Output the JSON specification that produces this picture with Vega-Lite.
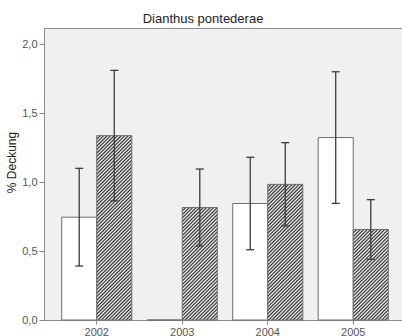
{
  "$schema": "https://vega.github.io/schema/vega-lite/v6.json",
  "width": 362,
  "height": 292,
  "autosize": "none",
  "padding": {"left": 44, "top": 28, "right": 0, "bottom": 16},
  "background": "white",
  "params": [
    {
      "name": "stripes",
      "value": [
        {"offset": 0, "color": "#2a2a2a"}, {"offset": 0.008, "color": "#fff"},
        {"offset": 0.016, "color": "#2a2a2a"}, {"offset": 0.024, "color": "#fff"},
        {"offset": 0.032, "color": "#2a2a2a"}, {"offset": 0.04, "color": "#fff"},
        {"offset": 0.048, "color": "#2a2a2a"}, {"offset": 0.056, "color": "#fff"},
        {"offset": 0.064, "color": "#2a2a2a"}, {"offset": 0.072, "color": "#fff"},
        {"offset": 0.08, "color": "#2a2a2a"}, {"offset": 0.088, "color": "#fff"},
        {"offset": 0.096, "color": "#2a2a2a"}, {"offset": 0.104, "color": "#fff"},
        {"offset": 0.112, "color": "#2a2a2a"}, {"offset": 0.12, "color": "#fff"},
        {"offset": 0.128, "color": "#2a2a2a"}, {"offset": 0.136, "color": "#fff"},
        {"offset": 0.144, "color": "#2a2a2a"}, {"offset": 0.152, "color": "#fff"},
        {"offset": 0.16, "color": "#2a2a2a"}, {"offset": 0.168, "color": "#fff"},
        {"offset": 0.176, "color": "#2a2a2a"}, {"offset": 0.184, "color": "#fff"},
        {"offset": 0.192, "color": "#2a2a2a"}, {"offset": 0.2, "color": "#fff"},
        {"offset": 0.208, "color": "#2a2a2a"}, {"offset": 0.216, "color": "#fff"},
        {"offset": 0.224, "color": "#2a2a2a"}, {"offset": 0.232, "color": "#fff"},
        {"offset": 0.24, "color": "#2a2a2a"}, {"offset": 0.248, "color": "#fff"},
        {"offset": 0.256, "color": "#2a2a2a"}, {"offset": 0.264, "color": "#fff"},
        {"offset": 0.272, "color": "#2a2a2a"}, {"offset": 0.28, "color": "#fff"},
        {"offset": 0.288, "color": "#2a2a2a"}, {"offset": 0.296, "color": "#fff"},
        {"offset": 0.304, "color": "#2a2a2a"}, {"offset": 0.312, "color": "#fff"},
        {"offset": 0.32, "color": "#2a2a2a"}, {"offset": 0.328, "color": "#fff"},
        {"offset": 0.336, "color": "#2a2a2a"}, {"offset": 0.344, "color": "#fff"},
        {"offset": 0.352, "color": "#2a2a2a"}, {"offset": 0.36, "color": "#fff"},
        {"offset": 0.368, "color": "#2a2a2a"}, {"offset": 0.376, "color": "#fff"},
        {"offset": 0.384, "color": "#2a2a2a"}, {"offset": 0.392, "color": "#fff"},
        {"offset": 0.4, "color": "#2a2a2a"}, {"offset": 0.408, "color": "#fff"},
        {"offset": 0.416, "color": "#2a2a2a"}, {"offset": 0.424, "color": "#fff"},
        {"offset": 0.432, "color": "#2a2a2a"}, {"offset": 0.44, "color": "#fff"},
        {"offset": 0.448, "color": "#2a2a2a"}, {"offset": 0.456, "color": "#fff"},
        {"offset": 0.464, "color": "#2a2a2a"}, {"offset": 0.472, "color": "#fff"},
        {"offset": 0.48, "color": "#2a2a2a"}, {"offset": 0.488, "color": "#fff"},
        {"offset": 0.496, "color": "#2a2a2a"}, {"offset": 0.504, "color": "#fff"},
        {"offset": 0.512, "color": "#2a2a2a"}, {"offset": 0.52, "color": "#fff"},
        {"offset": 0.528, "color": "#2a2a2a"}, {"offset": 0.536, "color": "#fff"},
        {"offset": 0.544, "color": "#2a2a2a"}, {"offset": 0.552, "color": "#fff"},
        {"offset": 0.56, "color": "#2a2a2a"}, {"offset": 0.568, "color": "#fff"},
        {"offset": 0.576, "color": "#2a2a2a"}, {"offset": 0.584, "color": "#fff"},
        {"offset": 0.592, "color": "#2a2a2a"}, {"offset": 0.6, "color": "#fff"},
        {"offset": 0.608, "color": "#2a2a2a"}, {"offset": 0.616, "color": "#fff"},
        {"offset": 0.624, "color": "#2a2a2a"}, {"offset": 0.632, "color": "#fff"},
        {"offset": 0.64, "color": "#2a2a2a"}, {"offset": 0.648, "color": "#fff"},
        {"offset": 0.656, "color": "#2a2a2a"}, {"offset": 0.664, "color": "#fff"},
        {"offset": 0.672, "color": "#2a2a2a"}, {"offset": 0.68, "color": "#fff"},
        {"offset": 0.688, "color": "#2a2a2a"}, {"offset": 0.696, "color": "#fff"},
        {"offset": 0.704, "color": "#2a2a2a"}, {"offset": 0.712, "color": "#fff"},
        {"offset": 0.72, "color": "#2a2a2a"}, {"offset": 0.728, "color": "#fff"},
        {"offset": 0.736, "color": "#2a2a2a"}, {"offset": 0.744, "color": "#fff"},
        {"offset": 0.752, "color": "#2a2a2a"}, {"offset": 0.76, "color": "#fff"},
        {"offset": 0.768, "color": "#2a2a2a"}, {"offset": 0.776, "color": "#fff"},
        {"offset": 0.784, "color": "#2a2a2a"}, {"offset": 0.792, "color": "#fff"},
        {"offset": 0.8, "color": "#2a2a2a"}, {"offset": 0.808, "color": "#fff"},
        {"offset": 0.816, "color": "#2a2a2a"}, {"offset": 0.824, "color": "#fff"},
        {"offset": 0.832, "color": "#2a2a2a"}, {"offset": 0.84, "color": "#fff"},
        {"offset": 0.848, "color": "#2a2a2a"}, {"offset": 0.856, "color": "#fff"},
        {"offset": 0.864, "color": "#2a2a2a"}, {"offset": 0.872, "color": "#fff"},
        {"offset": 0.88, "color": "#2a2a2a"}, {"offset": 0.888, "color": "#fff"},
        {"offset": 0.896, "color": "#2a2a2a"}, {"offset": 0.904, "color": "#fff"},
        {"offset": 0.912, "color": "#2a2a2a"}, {"offset": 0.92, "color": "#fff"},
        {"offset": 0.928, "color": "#2a2a2a"}, {"offset": 0.936, "color": "#fff"},
        {"offset": 0.944, "color": "#2a2a2a"}, {"offset": 0.952, "color": "#fff"},
        {"offset": 0.96, "color": "#2a2a2a"}, {"offset": 0.968, "color": "#fff"},
        {"offset": 0.976, "color": "#2a2a2a"}, {"offset": 0.984, "color": "#fff"},
        {"offset": 0.992, "color": "#2a2a2a"}, {"offset": 1, "color": "#fff"}
      ]
    }
  ],
  "title": {
    "text": "Dianthus pontederae",
    "anchor": "middle",
    "frame": "group",
    "dx": -22,
    "dy": 17,
    "baseline": "alphabetic",
    "offset": 9.5,
    "font": "Liberation Sans",
    "fontSize": 13,
    "fontWeight": "normal",
    "color": "#222"
  },
  "data": {
    "values": [
      {"year": "2002", "grp": "a", "v": 0.745, "lo": 0.391, "hi": 1.099},
      {"year": "2002", "grp": "b", "v": 1.336, "lo": 0.863, "hi": 1.809},
      {"year": "2003", "grp": "a", "v": 0, "lo": null, "hi": null},
      {"year": "2003", "grp": "b", "v": 0.815, "lo": 0.536, "hi": 1.094},
      {"year": "2004", "grp": "a", "v": 0.844, "lo": 0.509, "hi": 1.179},
      {"year": "2004", "grp": "b", "v": 0.983, "lo": 0.681, "hi": 1.285},
      {"year": "2005", "grp": "a", "v": 1.322, "lo": 0.845, "hi": 1.799},
      {"year": "2005", "grp": "b", "v": 0.656, "lo": 0.44, "hi": 0.872}
    ]
  },
  "encoding": {
    "x": {
      "field": "year",
      "type": "nominal",
      "scale": {"paddingInner": 0.18, "paddingOuter": 0.207},
      "axis": {
        "title": null,
        "labelAngle": 0,
        "labelFontSize": 11,
        "labelColor": "#555",
        "labelPadding": 2,
        "tickSize": 4,
        "tickColor": "#8c8c8c",
        "domainColor": "#8c8c8c"
      }
    },
    "xOffset": {
      "field": "grp",
      "type": "nominal",
      "scale": {"paddingInner": 0, "paddingOuter": 0}
    }
  },
  "layer": [
    {
      "mark": {"type": "bar", "stroke": "#6e6e6e", "strokeWidth": 1},
      "encoding": {
        "y": {
          "field": "v",
          "type": "quantitative",
          "scale": {"domain": [0, 2.116], "nice": false},
          "axis": {
            "title": "% Deckung",
            "values": [0, 0.5, 1, 1.5, 2],
            "labelExpr": "replace(format(datum.value, '.1f'), '.', ',')",
            "labelFontSize": 11,
            "labelColor": "#555",
            "labelPadding": 2,
            "tickSize": 5,
            "tickColor": "#8c8c8c",
            "domainColor": "#8c8c8c",
            "grid": false,
            "titleFontSize": 12,
            "titleFontWeight": "normal",
            "titleColor": "#222",
            "titleAngle": -90,
            "titleAlign": "center",
            "titleBaseline": "alphabetic",
            "titleX": -29,
            "titleY": 134
          }
        },
        "fill": {
          "value": {
            "expr": "datum.grp == 'b' ? {gradient: 'linear', x1: 0, y1: 0, x2: 218.75 * bandwidth('xOffset') / (pow(bandwidth('xOffset'), 2) + pow(scale('y', 0) - scale('y', datum.v), 2)), y2: 218.75 * (scale('y', 0) - scale('y', datum.v)) / (pow(bandwidth('xOffset'), 2) + pow(scale('y', 0) - scale('y', datum.v), 2)), stops: stripes} : 'white'"
          }
        }
      }
    },
    {
      "mark": {"type": "rule", "color": "#3c3c3c", "strokeWidth": 1.3},
      "encoding": {
        "y": {"field": "lo", "type": "quantitative"},
        "y2": {"field": "hi"}
      }
    },
    {
      "mark": {"type": "tick", "color": "#3c3c3c", "thickness": 1.3, "size": 8},
      "encoding": {"y": {"field": "lo", "type": "quantitative"}}
    },
    {
      "mark": {"type": "tick", "color": "#3c3c3c", "thickness": 1.3, "size": 8},
      "encoding": {"y": {"field": "hi", "type": "quantitative"}}
    }
  ],
  "config": {
    "font": "Liberation Sans",
    "view": {"fill": "#f0f0f0", "stroke": "#8c8c8c"},
    "tick": {"opacity": 1}
  }
}
